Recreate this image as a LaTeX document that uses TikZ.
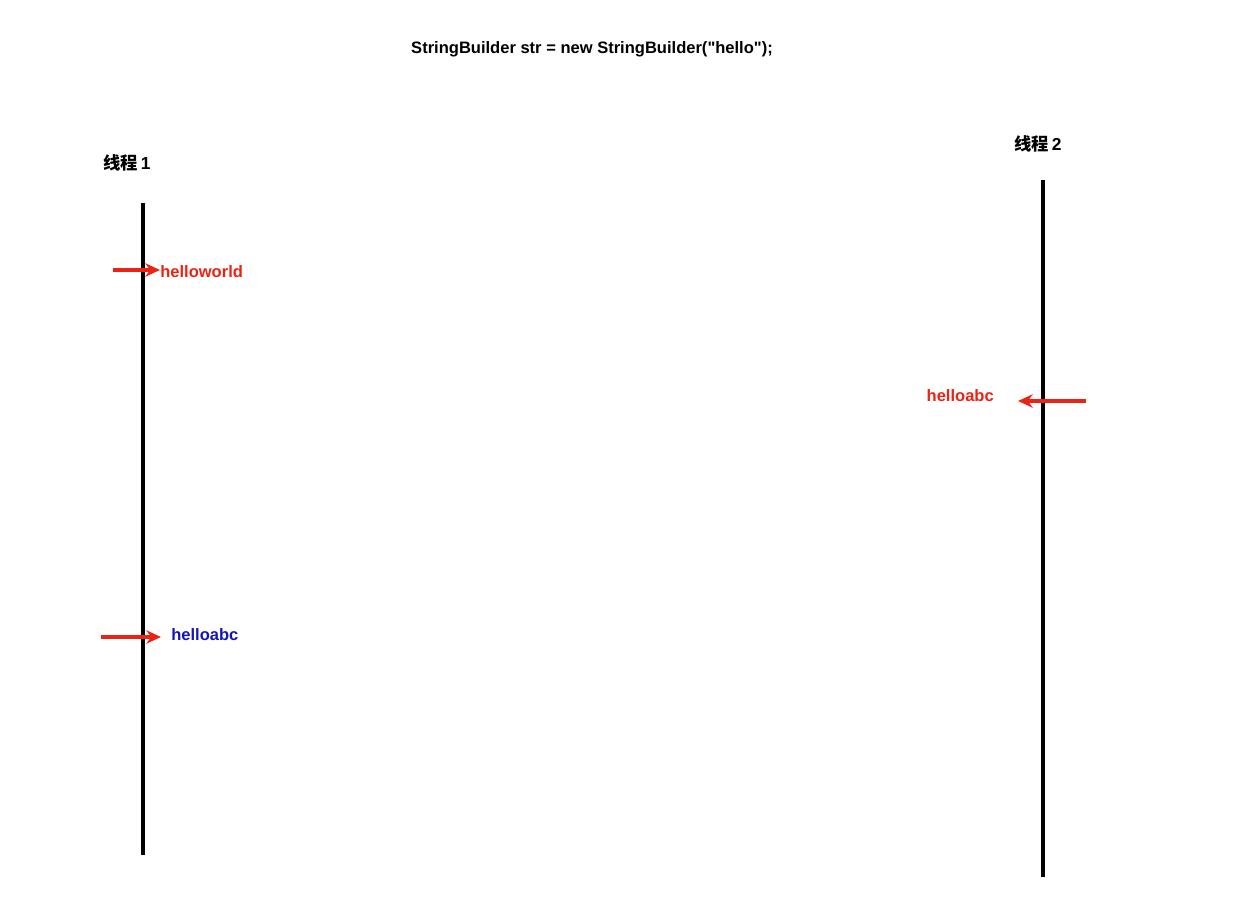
\documentclass[tikz,border=0pt]{standalone}
\usepackage{fontspec}
\setmainfont{Liberation Sans}
\newfontfamily\cjk{Noto Sans CJK SC}
\usetikzlibrary{arrows.meta}
\definecolor{arrowred}{RGB}{235,35,20}
\definecolor{textblue}{RGB}{20,20,190}
\tikzset{
  thread/.style={line width=3.2pt},
  call/.style={arrowred, line width=2.6pt, -{Stealth[length=11pt,width=10pt]}},
  label/.style={font=\bfseries\fontsize{12.4}{14}\selectfont, inner sep=0pt},
  cjklabel/.style={font=\bfseries\fontsize{13}{15}\selectfont, inner sep=0pt},
}
\begin{document}
\begin{tikzpicture}[x=0.75pt, y=-0.75pt]
    \useasboundingbox (0,0) rectangle (1235,916);
    % Title
    \node[label] (title) at (592,49) {\addfontfeatures{Ligatures=TeXOff}StringBuilder str = new StringBuilder("hello");};
    % Threads
    \node[cjklabel, anchor=south west] (t1) at (103,171) {{\cjk 线程}\,1};
    \node[cjklabel, anchor=south west] (t2) at (1014,152) {{\cjk 线程}\,2};
    \coordinate (t1top) at (143,203);
    \coordinate (t1bot) at (143,855);
    \coordinate (t2top) at (1043,180);
    \coordinate (t2bot) at (1043,877);
    \draw[thread] (t1top) -- (t1bot);
    \draw[thread] (t2top) -- (t2bot);
    % Thread 1 calls
    \node[label, text=arrowred, anchor=west] (hw) at (160,272) {helloworld};
    \coordinate (hwfrom) at (113,270);
    \draw[call] (hwfrom) -- (hw.west |- hwfrom);
    \node[label, text=textblue, anchor=west] (ha1) at (171,635) {helloabc};
    \coordinate (ha1from) at (101,637);
    \draw[call] (ha1from) -- ([xshift=-7.5pt] ha1.west |- ha1from);
    % Thread 2 call
    \node[label, text=arrowred, anchor=east] (ha2) at (994,396) {helloabc};
    \coordinate (ha2from) at (1086,401);
    \draw[call] (ha2from) -- ([xshift=18pt] ha2.east |- ha2from);
\end{tikzpicture}
\end{document}
